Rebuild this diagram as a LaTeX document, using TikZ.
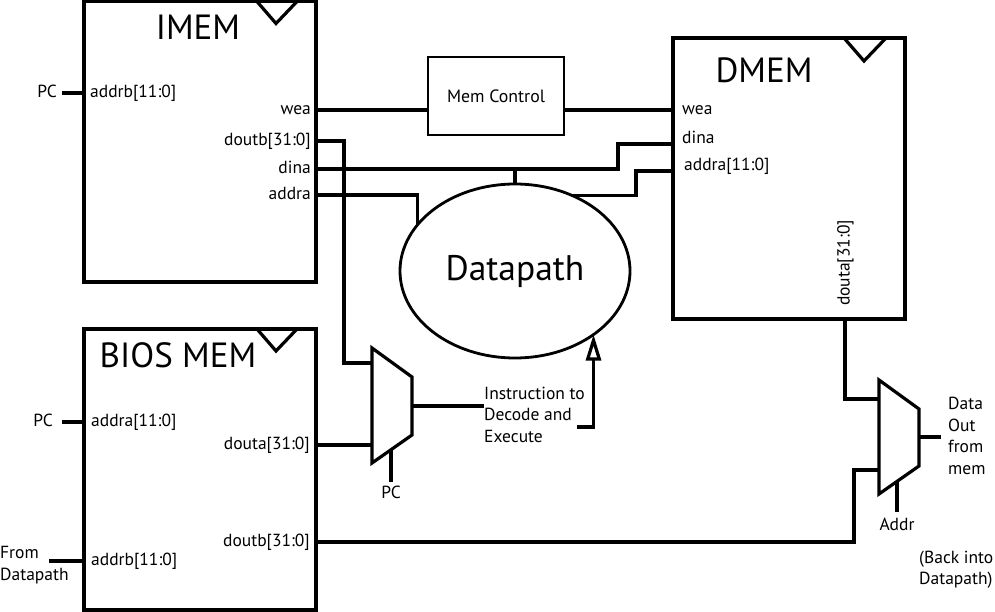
\documentclass[tikz,border=0pt]{standalone}
\usepackage{fontspec}
\setmainfont{PT Sans}
\usetikzlibrary{arrows.meta,shapes.geometric,calc}
\begin{document}
\begin{tikzpicture}[x=1pt,y=-1pt,
  wire/.style={line width=3.2pt},
  memblk/.style={draw,line width=3.2pt,minimum width=232pt,minimum height=281pt,inner sep=0pt,outer sep=0pt},
  clk/.style={line width=3.2pt},
  muxbody/.style={draw,line width=3.2pt},
  lbl/.style={font=\fontsize{17.5}{21.5}\selectfont,inner xsep=2pt,inner ysep=0pt,text height=9pt,text depth=0pt},
  note/.style={font=\fontsize{17.5}{21.5}\selectfont,inner sep=0pt,align=left},
  title/.style={font=\fontsize{35}{40}\selectfont,inner sep=0pt}
]
\useasboundingbox (0,0) rectangle (995,612);

% ---------- blocks ----------
\node[memblk,minimum height=280.5pt] (imem) at (200,141.75) {};
\node[memblk] (dmem) at (789,178.5) {};
\node[memblk] (bios) at (200,469.5) {};
\node[draw,line width=2.8pt,minimum width=136pt,minimum height=78pt,inner sep=0pt,outer sep=0pt,
      font=\fontsize{17.8}{20}\selectfont] (memctl) at (496,96) {Mem Control};
\node[draw,ellipse,line width=2.8pt,minimum width=230pt,minimum height=174pt,inner sep=0pt,outer sep=0pt,
      font=\fontsize{35.5}{40}\selectfont] (dp) at (515,271) {Datapath};

% clock markers
\draw[clk] ([xshift=-59pt]imem.north east) -- ++(19,22) -- ++(21,-22);
\draw[clk] ([xshift=-61pt]dmem.north east) -- ++(20,23) -- ++(22,-23);
\draw[clk] ([xshift=-59pt]bios.north east) -- ++(19,22) -- ++(21,-22);

% titles
\node[title] (imem-title) at (198,27) {IMEM};
\node[title] (dmem-title) at (764,70) {DMEM};
\node[title] (bios-title) at (178,355) {BIOS MEM};

% ---------- port labels ----------
\node[lbl,anchor=east] (imem-pc) at (59,93) {PC};
\node[lbl,anchor=west] (imem-addrb) at (88,93) {addrb[11:0]};
\node[lbl,anchor=east] (imem-wea) at (313,110) {wea};
\node[lbl,anchor=east] (imem-doutb) at (313,141) {doutb[31:0]};
\node[lbl,anchor=east] (imem-dina) at (313,169) {dina};
\node[lbl,anchor=east] (imem-addra) at (313,195) {addra};

\node[lbl,anchor=west] (dmem-wea) at (680,110) {wea};
\node[lbl,anchor=west] (dmem-dina) at (680,139) {dina};
\node[lbl,anchor=west] (dmem-addra) at (682,166) {addra[11:0]};
\node[lbl,rotate=90] (dmem-douta) at (845,263) {douta[31:0]};

\node[lbl,anchor=east] (bios-pc) at (55,422) {PC};
\node[lbl,anchor=west] (bios-addra) at (89,422) {addra[11:0]};
\node[lbl,anchor=east] (bios-douta) at (312,445) {douta[31:0]};
\node[lbl,anchor=east] (bios-doutb) at (312,542) {doutb[31:0]};
\node[lbl,anchor=west] (bios-addrb) at (89,561) {addrb[11:0]};
\node[note,anchor=north west] (bios-from) at (0,546.5) {From\\Datapath};

% ---------- multiplexers ----------
\draw[muxbody] (372,348) -- (412,377) -- (412,435) -- (372,463) -- cycle;
\coordinate (m1-in0) at (372,363);
\coordinate (m1-in1) at (372,445);
\coordinate (m1-out) at (412,406);
\coordinate (m1-sel) at (391,450);

\draw[muxbody] (879,380) -- (919,409) -- (919,466) -- (879,494) -- cycle;
\coordinate (m2-in0) at (879,399);
\coordinate (m2-in1) at (879,470);
\coordinate (m2-out) at (919,437);
\coordinate (m2-sel) at (897,482);

\node[lbl] (m1-pc) at (391,494) {PC};
\node[lbl] (m2-addr) at (897,526) {Addr};
\node[note,anchor=north west] (instr) at (484,386.5) {Instruction to\\Decode and\\Execute};
\node[note,anchor=north west] (dout) at (948,397) {Data\\Out\\from\\mem};
\node[note,anchor=north west] (back) at (919,550.5) {(Back into\\Datapath)};

% wire bends and free ends
\coordinate (imem-pcend) at (62,93);
\coordinate (bios-pcend) at (62,422);
\coordinate (bios-fromend) at (49,561);
\coordinate (jog-doutb) at (344,363);
\coordinate (jog-dina) at (618,144);
\coordinate (jog-addra) at (636,171);
\coordinate (jog-biosb) at (854,470);
\coordinate (instr-tail) at (577,427);

% ---------- wires ----------
\draw[wire] (imem-pcend) -- (imem.west |- imem-pcend);
\draw[wire] (bios-pcend) -- (bios.west |- bios-pcend);
\draw[wire] (bios-fromend) -- (bios.west |- bios-fromend);

\draw[wire] (imem.east |- imem-wea) -- (memctl.west |- imem-wea);
\draw[wire] (memctl.east |- dmem-wea) -- (dmem.west |- dmem-wea);
\draw[wire] (imem.east |- imem-doutb) -| (jog-doutb) -- (m1-in0);
\draw[wire] (imem.east |- imem-dina) -| (jog-dina) -- (dmem.west |- jog-dina);
\draw[wire] (dp.north) -- (dp.north |- imem-dina);
\draw[wire] (imem.east |- imem-addra) -| (dp.155);
\draw[wire] (dp.53) -| (jog-addra) -- (dmem.west |- jog-addra);

\draw[wire] (bios.east |- bios-douta) -- (m1-in1);
\draw[wire] (bios.east |- bios-doutb) -| (jog-biosb) -- (m2-in1);
\draw[wire] (dmem.south -| dmem-douta) |- (m2-in0);

\draw[wire] (m1-out) -- (m1-out -| instr.west);
\draw[wire] (m1-sel) -- ++(0,32);
\draw[wire] (m2-out) -- ++(22,0);
\draw[wire] (m2-sel) -- ++(0,30);
\draw[wire,-{Triangle[open,length=26pt,width=15pt]}] (instr-tail) -| (dp.-39);
\end{tikzpicture}
\end{document}
